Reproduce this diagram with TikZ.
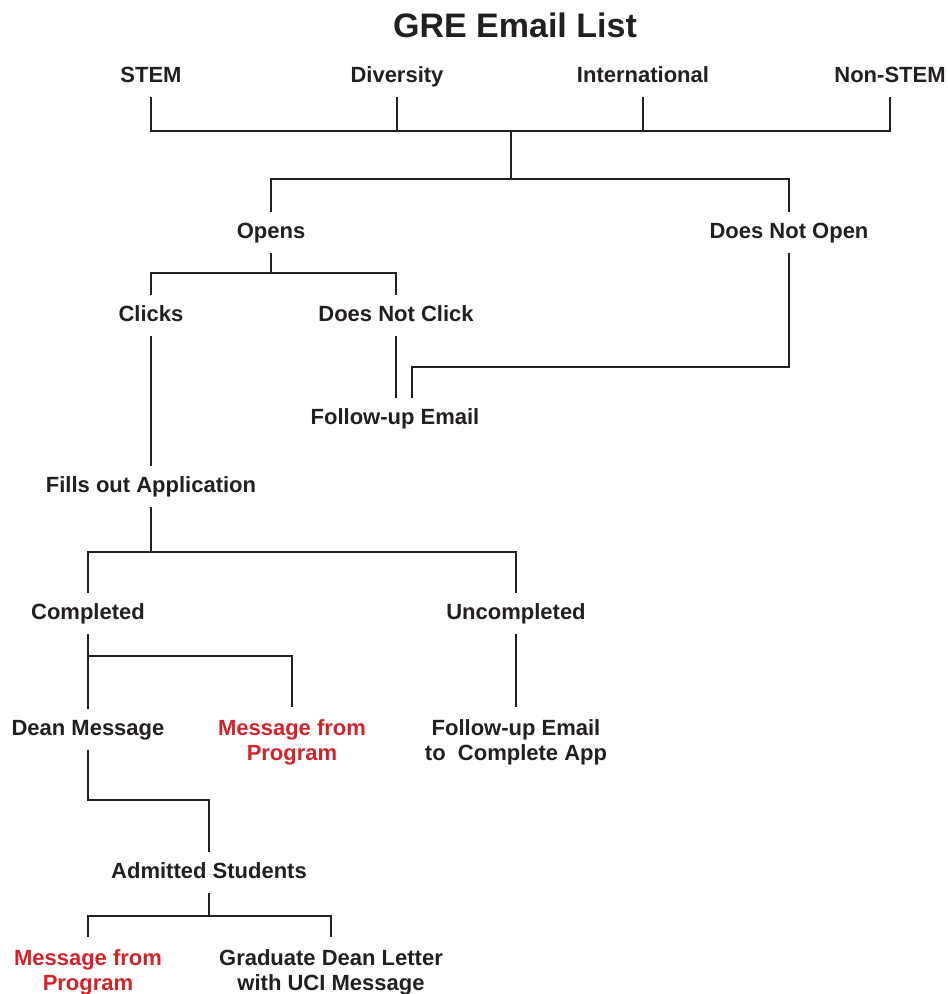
\documentclass[tikz,border=0pt]{standalone}
\usepackage{fontspec}
\setmainfont{Liberation Sans}
\definecolor{ink}{HTML}{231F20}
\definecolor{redtxt}{HTML}{D2232A}
\tikzset{
  lbl/.style={font=\bfseries\fontsize{22}{25}\selectfont, text=ink, anchor=base,
    text height=16pt, text depth=5pt, inner xsep=0pt, inner ysep=10pt},
  twoline/.style={font=\bfseries\fontsize{22}{25}\selectfont, text=ink, anchor=north,
    align=center, inner xsep=0pt, inner ysep=12pt},
  redlbl/.style={text=redtxt},
  conn/.style={draw=ink, line width=1.5pt}
}
\begin{document}
\begin{tikzpicture}[x=1pt,y=-1pt]
\useasboundingbox (0,0) rectangle (948,994);
% title
\node[font=\bfseries\fontsize{34}{40}\selectfont, text=ink, anchor=base, inner sep=0pt] (title) at (515,37) {GRE Email List};
% top row
\node[lbl] (stem) at (151,82) {STEM};
\node[lbl] (div) at (397,82) {Diversity};
\node[lbl] (intl) at (643,82) {International};
\node[lbl] (nonstem) at (890,82) {Non-STEM};
% second level
\node[lbl] (opens) at (271,238) {Opens};
\node[lbl] (dno) at (789,238) {Does Not Open};
\node[lbl] (clicks) at (151,321) {Clicks};
\node[lbl] (dnc) at (396,321) {Does Not Click};
\node[lbl] (fu) at (395,424) {Follow-up Email};
\node[lbl] (fills) at (151,492) {Fills out Application};
\node[lbl] (completed) at (88,619) {Completed};
\node[lbl] (uncompleted) at (516,619) {Uncompleted};
\node[lbl] (dean) at (88,735) {Dean Message};
\node[twoline, redlbl] (mfp1) at (292,707) {Message from\\Program};
\node[twoline] (fuc) at (516,707) {Follow-up Email\\to\ \ Complete App};
\node[lbl] (admitted) at (209,878) {Admitted Students};
\node[twoline, redlbl] (mfp2) at (88,937) {Message from\\Program};
\node[twoline] (gdl) at (331,937) {Graduate Dean Letter\\with UCI Message};
% junction coordinates
\coordinate (j1) at (511,131);
\coordinate (j2) at (511,179);
\coordinate (j3) at (271,273);
\coordinate (c1) at (412,367);
\coordinate (j4) at (151,552);
\coordinate (j5) at (88,656);
\coordinate (j6) at (209,800);
\coordinate (j7) at (209,916);
% connectors
\draw[conn] (stem.south) |- (j1) -| (nonstem.south);
\draw[conn] (div.south) -- (div.south |- j1);
\draw[conn] (intl.south) -- (intl.south |- j1);
\draw[conn] (j1) -- (j2);
\draw[conn] (opens.north) |- (j2) -| (dno.north);
\draw[conn] (opens.south) -- (j3);
\draw[conn] (clicks.north) |- (j3) -| (dnc.north);
\draw[conn] (fu.north -| dnc.south) -- (dnc.south);
\draw[conn] (dno.south) |- (c1) -- (c1 |- fu.north);
\draw[conn] (clicks.south) -- (fills.north);
\draw[conn] (fills.south) -- (j4);
\draw[conn] (completed.north) |- (j4) -| (uncompleted.north);
\draw[conn] (completed.south) -- (dean.north);
\draw[conn] (j5) -| (mfp1.north);
\draw[conn] (uncompleted.south) -- (fuc.north);
\draw[conn] (dean.south) |- (j6) -- (admitted.north);
\draw[conn] (admitted.south) -- (j7);
\draw[conn] (mfp2.north) |- (j7) -| (gdl.north);
\end{tikzpicture}
\end{document}
